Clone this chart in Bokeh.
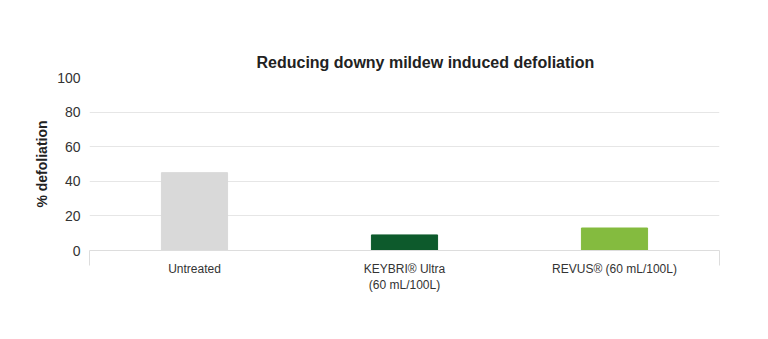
from bokeh.plotting import figure
from bokeh.models import Range1d, FixedTicker, ColumnDataSource
from bokeh.embed import file_html
from bokeh.resources import INLINE

categories = ["Untreated\n ", "KEYBRI\u00ae Ultra\n(60 mL/100L)", "REVUS\u00ae (60 mL/100L)\n "]
defoliation = [45, 9, 13]
colors = ["#d9d9d9", "#0d5a2c", "#84bb3f"]
y_ticks = [0, 20, 40, 60, 80, 100]

FONT = "Liberation Sans"

xs = [i + 0.5 for i in range(len(categories))]
src = ColumnDataSource(dict(x=xs, top=defoliation, color=colors))

p = figure(width=768, height=339, output_backend="svg", toolbar_location=None,
           x_range=Range1d(0, len(categories)), y_range=Range1d(0, 100),
           min_border_left=89, min_border_right=49, min_border_top=77, min_border_bottom=89)
p.outline_line_color = None
p.background_fill_color = "white"
p.border_fill_color = "white"

p.vbar(x="x", top="top", bottom=0, width=0.315, color="color", source=src)

p.title.text = "Reducing downy mildew induced defoliation"
p.title.text_font = FONT
p.title.text_font_size = "16px"
p.title.text_font_style = "bold"
p.title.text_color = "#222222"
p.title.align = "left"
p.title.offset = 167
p.title.standoff = 14

xa = p.xaxis[0]
xa.ticker = FixedTicker(ticks=xs, minor_ticks=[0, len(categories)])
xa.major_label_overrides = {x: c for x, c in zip(xs, categories)}
xa.major_tick_line_color = None
xa.major_tick_in = 0
xa.major_tick_out = 0
xa.minor_tick_in = 0
xa.minor_tick_out = 15
xa.minor_tick_line_color = "#dddddd"
xa.axis_line_color = "#dddddd"
xa.major_label_text_font = FONT
xa.major_label_text_font_size = "12px"
xa.major_label_text_color = "#333333"
xa.major_label_standoff = -4

ya = p.yaxis[0]
ya.ticker = FixedTicker(ticks=y_ticks)
ya.axis_line_color = None
ya.major_tick_line_color = None
ya.major_tick_in = 0
ya.major_tick_out = 0
ya.minor_tick_line_color = None
ya.minor_tick_out = 0
ya.major_label_text_font = FONT
ya.major_label_text_font_size = "14px"
ya.major_label_text_color = "#333333"
ya.major_label_standoff = 9
ya.axis_label = "% defoliation"
ya.axis_label_text_font = FONT
ya.axis_label_text_font_size = "14px"
ya.axis_label_text_font_style = "bold"
ya.axis_label_text_color = "#222222"
ya.axis_label_standoff = 4

p.xgrid.grid_line_color = None
p.ygrid.grid_line_color = "#e6e6e6"
p.ygrid.grid_line_width = 1

open("out.html", "w").write(file_html(p, INLINE))
